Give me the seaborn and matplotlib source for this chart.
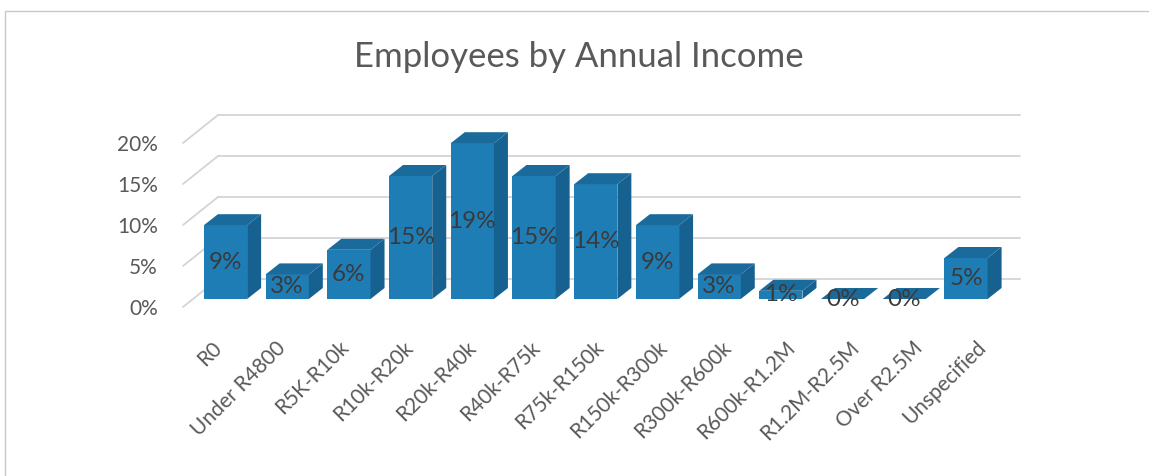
import numpy as np
import pandas as pd
import matplotlib
matplotlib.use("Agg")
import matplotlib.pyplot as plt
import seaborn as sns
from matplotlib.patches import Polygon
from matplotlib.transforms import ScaledTranslation
from matplotlib.lines import Line2D

# ---- data ----
categories = ["R0", "Under R4800", "R5K-R10k", "R10k-R20k", "R20k-R40k",
              "R40k-R75k", "R75k-R150k", "R150k-R300k", "R300k-R600k",
              "R600k-R1.2M", "R1.2M-R2.5M", "Over R2.5M", "Unspecified"]
shares = [9, 3, 6, 15, 19, 15, 14, 9, 3, 1, 0, 0, 5]
yticks = [0, 5, 10, 15, 20]
ytick_labels = ["0%", "5%", "10%", "15%", "20%"]
title = "Employees by Annual Income"

# ---- style ----
FRONT = "#1f7db5"
TOP = "#1a6b9c"
SIDE = "#176190"
GRID = "#d4d4d4"
TXT = "#595959"

sns.set_theme(style="white")
plt.rcParams['font.family'] = ['Lato', 'DejaVu Sans']

W, H = 1149, 476
fig = plt.figure(figsize=(W / 100, H / 100), dpi=100)
fig.patch.set_facecolor("white")
ax = fig.add_axes([183 / W, (H - 307) / H, 802 / W, 164 / H])

df = pd.DataFrame({"category": categories, "share": shares})
sns.barplot(data=df, x="category", y="share", color=FRONT, saturation=1,
            width=0.7, ax=ax, zorder=3, linewidth=0)
ax.set_xlim(-0.527, 12.47)
ax.set_ylim(0, 20)
for s in ax.spines.values():
    s.set_visible(False)
ax.set_xlabel("")
ax.set_ylabel("")
ax.set_yticks(yticks, ytick_labels)
ax.tick_params(axis="y", length=0, pad=18, labelsize=15, labelcolor=TXT)
ax.tick_params(axis="x", length=0, pad=27, labelsize=15, labelcolor=TXT)
for i, lab in enumerate(ax.get_xticklabels()):
    lab.set_rotation(45)
    lab.set_ha("right")
    lab.set_rotation_mode("anchor")
    lab.set_va("center")
    lab.set_transform(lab.get_transform() +
                      ScaledTranslation((3 + 2.0 * i) / 100, 0, fig.dpi_scale_trans))

# pixel -> data conversion
p0 = ax.transData.transform((0, 0))
p1 = ax.transData.transform((1, 1))
px_x = p1[0] - p0[0]
px_y = p1[1] - p0[1]

# back wall gridlines
bdx, bdy = 35 / px_x, 28 / px_y
xl, xr = ax.get_xlim()
for t in yticks:
    ax.plot([xl, xl + bdx], [t, t + bdy], color=GRID, lw=1.3, clip_on=False, zorder=1)
    ax.plot([xl + bdx, xr + bdx], [t + bdy, t + bdy], color=GRID, lw=1.3,
            clip_on=False, zorder=1)

# bars sit slightly behind the front plane
shift = ax.transData + ScaledTranslation(10 / 100, 8 / 100, fig.dpi_scale_trans)
ddx, ddy = 14 / px_x, 11 / px_y
for i, p in enumerate(ax.patches):
    p.set_transform(shift)
    p.set_clip_on(False)
    x0 = p.get_x()
    x1 = x0 + p.get_width()
    h = p.get_height()
    side = Polygon([(x1, 0), (x1 + ddx, ddy), (x1 + ddx, h + ddy), (x1, h)],
                   closed=True, facecolor=SIDE, edgecolor="none",
                   transform=shift, clip_on=False, zorder=3)
    top = Polygon([(x0, h), (x1, h), (x1 + ddx, h + ddy), (x0 + ddx, h + ddy)],
                  closed=True, facecolor=TOP, edgecolor="none",
                  transform=shift, clip_on=False, zorder=3)
    ax.add_patch(side)
    ax.add_patch(top)
    ax.text(x0 + p.get_width() / 2, h / 2, f"{shares[i]}%", transform=shift,
            ha="center", va="center", fontsize=17.5, color="#3a3a3a", zorder=5,
            clip_on=False)

fig.text(579 / W, 1 - 67 / H, title, ha="center", va="baseline", fontsize=25,
         color=TXT)

# chart frame
fig.add_artist(Line2D([5 / W, 1], [1 - 11 / H, 1 - 11 / H], color="#c8c8c8", lw=1))
fig.add_artist(Line2D([5 / W, 5 / W], [0, 1 - 11 / H], color="#c8c8c8", lw=1))

fig.savefig("out.png", dpi=100)
